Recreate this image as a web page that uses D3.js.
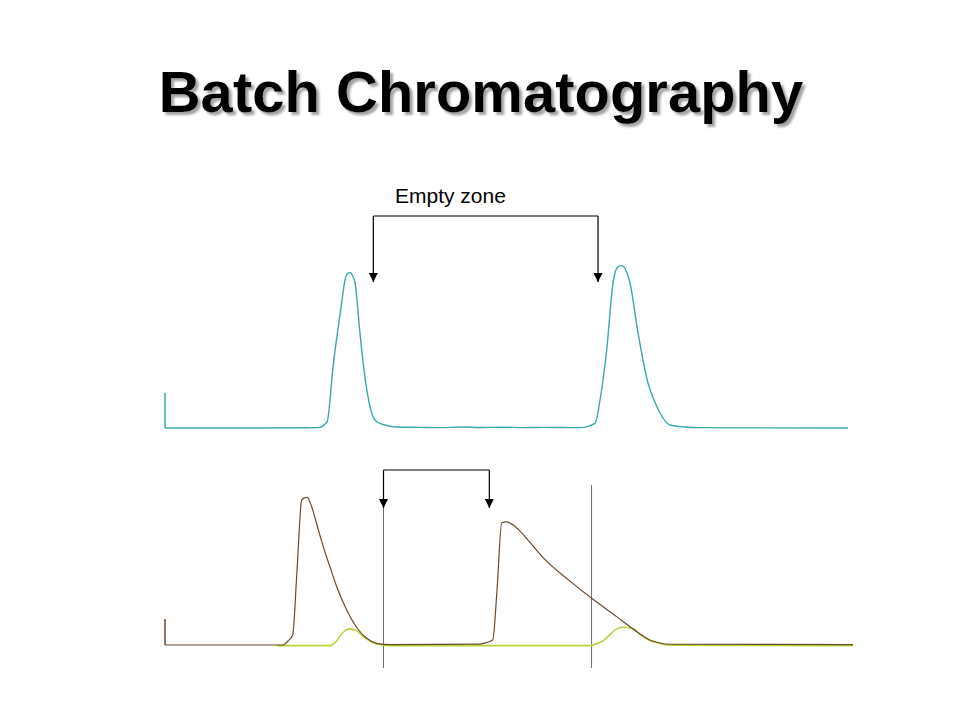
<!DOCTYPE html>
<html>
<head>
<meta charset="utf-8">
<script src="https://cdn.jsdelivr.net/npm/d3@7"></script>
<style>
  html, body { margin: 0; padding: 0; background: #fff; }
  svg { display: block; }
</style>
</head>
<body>
<svg id="chart" width="960" height="720"></svg>
<script>
// ---- DATA (time in arbitrary units 0..100, signal normalised 0..1) ----
const titleText = "Batch Chromatography";
const annotationText = "Empty zone";

// Top chromatogram (single component, two injections)
const topTime = [0, 10, 22.24, 23.55, 24.42, 25.68, 26.16, 26.5, 26.9, 27.25, 27.62, 28.34, 28.92, 29.51, 30.04, 30.77, 31.98, 33.72, 37, 40, 43, 46, 49, 52, 55, 58, 60.32, 62.5, 63.23, 64.2, 65.12, 65.55, 66.24, 66.72, 67.15, 67.59, 68.75, 69.48, 70.2, 71.08, 71.95, 73.4, 75.58, 77.83, 99.27];
const topSignal = [0, 0, 0.002, 0.036, 0.37, 0.758, 0.897, 0.933, 0.942, 0.925, 0.879, 0.576, 0.352, 0.188, 0.091, 0.038, 0.018, 0.006, 0.004, 0.002, 0.006, 0.003, 0.005, 0.002, 0.004, 0.003, 0.002, 0.028, 0.17, 0.473, 0.879, 0.958, 0.984, 0.976, 0.939, 0.879, 0.576, 0.412, 0.273, 0.17, 0.091, 0.018, 0.006, 0.002, 0];

// Bottom chromatogram, component A (brown)
const brownTime = [0, 17.15, 17.88, 18.56, 19.19, 19.87, 20.2, 20.68, 21.32, 22.09, 23.01, 23.98, 24.96, 26.41, 27.95, 29.32, 30.77, 32.7, 45.78, 46.27, 47.63, 48.26, 48.94, 49.67, 50.39, 51.6, 53.05, 54.99, 58.87, 62.02, 65.65, 67.59, 69.04, 70.49, 71.95, 73.4, 100];
const brownSignal = [0, 0, 0.026, 0.065, 0.484, 0.935, 0.948, 0.953, 0.892, 0.774, 0.634, 0.503, 0.376, 0.226, 0.108, 0.043, 0.011, 0.003, 0.006, 0.01, 0.032, 0.355, 0.789, 0.795, 0.781, 0.735, 0.662, 0.562, 0.412, 0.301, 0.183, 0.118, 0.071, 0.032, 0.013, 0.005, 0.003];

// Bottom chromatogram, component B (yellow-green)
const yellowTime = [16.28, 23.98, 24.85, 25.68, 26.31, 26.89, 27.47, 27.95, 28.63, 29.32, 30.77, 32.7, 61.77, 62.79, 63.71, 64.68, 65.65, 66.28, 66.86, 68.07, 69.04, 70.49, 71.95, 73.4, 100];
const yellowSignal = [0, 0, 0.026, 0.075, 0.1, 0.108, 0.103, 0.094, 0.065, 0.042, 0.011, 0, 0, 0.013, 0.032, 0.071, 0.108, 0.117, 0.118, 0.108, 0.074, 0.032, 0.013, 0.003, 0];

// Annotations (time positions, signal levels)
const topArrowTimes = [30.28, 62.94];
const topArrowLevels = [1.285, 0.885];      // bracket level, arrow tip level
const bottomArrowTimes = [31.76, 47.14];
const bottomArrowLevels = [1.129, 0.884];
const cutTimes = [31.76, 62.0];             // vertical cut lines
const cutLevels = [[0.884, -0.148], [1.032, -0.148]];
const axisStubTop = 0.212;
const axisStubBottom = 0.168;

// ---- DRAWING ----
const svg = d3.select("#chart");

const x = d3.scaleLinear().domain([0, 100]).range([165, 853]);
const yTop = d3.scaleLinear().domain([0, 1]).range([428, 263]);
const yBot = d3.scaleLinear().domain([0, 1]).range([645, 490]);

const teal = "#3aa9a9";
const brown = "#6b4a2c";
const yellow = "#b9d33a";
const grey = "#6e6e6e";

const defs = svg.append("defs");
const shadow = defs.append("filter").attr("id", "shadow")
  .attr("x", "-5%").attr("y", "-20%").attr("width", "110%").attr("height", "140%");
shadow.append("feDropShadow")
  .attr("dx", 3).attr("dy", 3).attr("stdDeviation", 1.2)
  .attr("flood-color", "#8c8c8c").attr("flood-opacity", 0.8);

// Title with shadow
svg.append("text")
  .attr("x", 481).attr("y", 112)
  .attr("text-anchor", "middle")
  .attr("font-family", "Liberation Sans, Arial, sans-serif")
  .attr("font-weight", "bold").attr("font-size", 58)
  .attr("fill", "#000")
  .attr("filter", "url(#shadow)")
  .text(titleText);

// Arrow marker
defs.append("marker")
  .attr("id", "arrow").attr("viewBox", "0 0 10 10")
  .attr("refX", 10).attr("refY", 5)
  .attr("markerWidth", 9).attr("markerHeight", 9)
  .attr("markerUnits", "userSpaceOnUse")
  .attr("orient", "auto")
  .append("path").attr("d", "M0,0 L10,5 L0,10 Z").attr("fill", "#000");

// Top chart
const topData = topTime.map((t, i) => [t, topSignal[i]]);
svg.append("line")
  .attr("x1", x(0)).attr("x2", x(0))
  .attr("y1", yTop(0)).attr("y2", yTop(axisStubTop))
  .attr("stroke", teal).attr("stroke-width", 1.5);
svg.append("path")
  .datum(topData)
  .attr("fill", "none").attr("stroke", teal).attr("stroke-width", 1.4)
  .attr("d", d3.line().x(d => x(d[0])).y(d => yTop(d[1])).curve(d3.curveMonotoneX));

// Top bracket
svg.append("path")
  .attr("fill", "none").attr("stroke", "#000").attr("stroke-width", 1.2)
  .attr("d", `M${x(topArrowTimes[0])},${yTop(topArrowLevels[0])} H${x(topArrowTimes[1])}`);
topArrowTimes.forEach(t => {
  svg.append("line")
    .attr("x1", x(t)).attr("x2", x(t))
    .attr("y1", yTop(topArrowLevels[0])).attr("y2", yTop(topArrowLevels[1]))
    .attr("stroke", "#000").attr("stroke-width", 1.2)
    .attr("marker-end", "url(#arrow)");
});
svg.append("text")
  .attr("x", 395).attr("y", 203)
  .attr("font-family", "Liberation Sans, Arial, sans-serif")
  .attr("font-size", 21).attr("fill", "#000")
  .text(annotationText);

// Bottom chart
svg.append("line")
  .attr("x1", x(0)).attr("x2", x(0))
  .attr("y1", yBot(0)).attr("y2", yBot(axisStubBottom))
  .attr("stroke", brown).attr("stroke-width", 1.5);

cutTimes.forEach((t, i) => {
  svg.append("line")
    .attr("x1", x(t)).attr("x2", x(t))
    .attr("y1", yBot(cutLevels[i][0])).attr("y2", yBot(cutLevels[i][1]))
    .attr("stroke", grey).attr("stroke-width", 1);
});

const yellowData = yellowTime.map((t, i) => [t, yellowSignal[i]]);
const brownData = brownTime.map((t, i) => [t, brownSignal[i]]);
const lineBot = d3.line().x(d => x(d[0])).y(d => yBot(d[1])).curve(d3.curveMonotoneX);

svg.append("path").datum(yellowData)
  .attr("fill", "none").attr("stroke", yellow).attr("stroke-width", 1.6)
  .attr("transform", "translate(0,0.6)")
  .attr("d", lineBot);
svg.append("path").datum(brownData)
  .attr("fill", "none").attr("stroke", brown).attr("stroke-width", 1.2)
  .attr("d", lineBot);

// Bottom bracket
svg.append("path")
  .attr("fill", "none").attr("stroke", "#000").attr("stroke-width", 1.2)
  .attr("d", `M${x(bottomArrowTimes[0])},${yBot(bottomArrowLevels[0])} H${x(bottomArrowTimes[1])}`);
bottomArrowTimes.forEach(t => {
  svg.append("line")
    .attr("x1", x(t)).attr("x2", x(t))
    .attr("y1", yBot(bottomArrowLevels[0])).attr("y2", yBot(bottomArrowLevels[1]))
    .attr("stroke", "#000").attr("stroke-width", 1.2)
    .attr("marker-end", "url(#arrow)");
});
</script>
</body>
</html>
